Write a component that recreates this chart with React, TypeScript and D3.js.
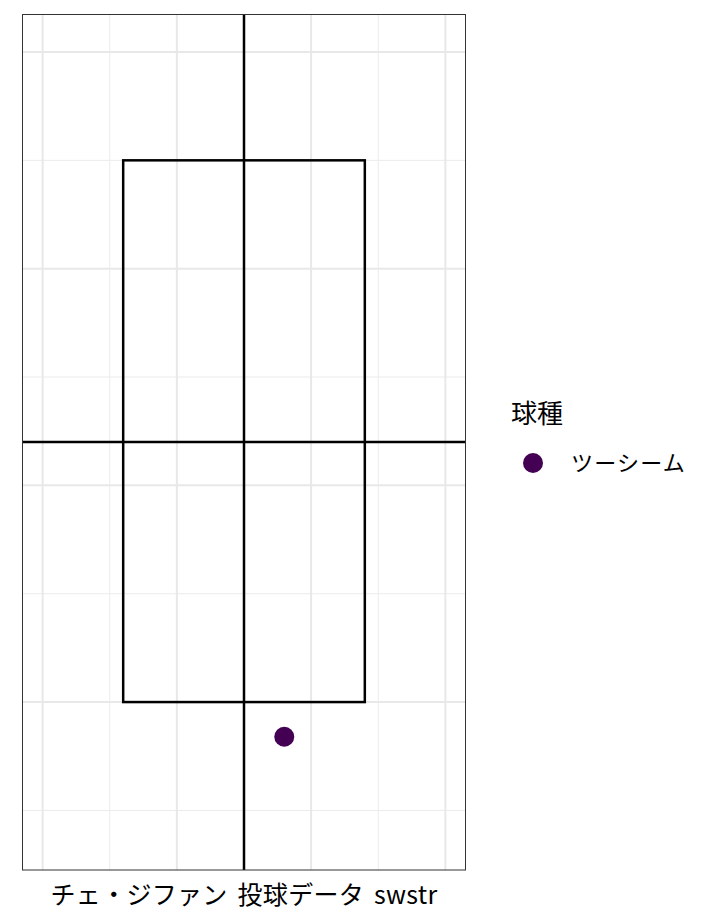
import React, { useEffect, useRef } from 'react';
import * as d3 from 'd3';

// grid breaks
const xMajor = [-1.5, -0.5, 0.5, 1.5];
const xMinor = [-1, 0, 1];
const yMajor = [1, 2, 3, 4];
const yMinor = [0.5, 1.5, 2.5, 3.5];

// strike zone and reference lines
const zoneX = [-0.9, 0.9];
const zoneY = [1, 3.5];
const centerX = 0;
const centerY = 2.2;

// pitches
const pitchTypes = ['ツーシーム'];
const pitchX = [0.3];
const pitchY = [0.84];

const xTitle = 'チェ・ジファン 投球データ swstr';
const legendTitle = '球種';

const W = 720;
const H = 921;
const FONT = '"Noto Sans CJK JP", "Noto Sans", sans-serif';

const App = () => {
  const ref = useRef<SVGSVGElement>(null);

  useEffect(() => {
    const svg = d3.select(ref.current);
    svg.selectAll('*').remove();

    const panel = { left: 22.5, right: 465.5, top: 14.5, bottom: 870 };
    const x = d3.scaleLinear().domain([-1.65, 1.65]).range([panel.left, panel.right]);
    const y = d3.scaleLinear().domain([0.225, 4.173]).range([panel.bottom, panel.top]);
    const color = d3.scaleOrdinal<string>().domain(pitchTypes).range(['#440154']);

    const g = svg.append('g');

    g.append('rect')
      .attr('x', panel.left).attr('y', panel.top)
      .attr('width', panel.right - panel.left).attr('height', panel.bottom - panel.top)
      .attr('fill', 'white');

    // minor grid
    g.selectAll('.vminor').data(xMinor).join('line')
      .attr('x1', d => x(d)).attr('x2', d => x(d))
      .attr('y1', panel.top).attr('y2', panel.bottom)
      .attr('stroke', '#ebebeb').attr('stroke-width', 1);
    g.selectAll('.hminor').data(yMinor).join('line')
      .attr('y1', d => y(d)).attr('y2', d => y(d))
      .attr('x1', panel.left).attr('x2', panel.right)
      .attr('stroke', '#ebebeb').attr('stroke-width', 1);
    // major grid
    g.selectAll('.vmajor').data(xMajor).join('line')
      .attr('x1', d => x(d)).attr('x2', d => x(d))
      .attr('y1', panel.top).attr('y2', panel.bottom)
      .attr('stroke', '#e8e8e8').attr('stroke-width', 2);
    g.selectAll('.hmajor').data(yMajor).join('line')
      .attr('y1', d => y(d)).attr('y2', d => y(d))
      .attr('x1', panel.left).attr('x2', panel.right)
      .attr('stroke', '#e8e8e8').attr('stroke-width', 2);

    // strike zone
    g.append('rect')
      .attr('x', x(zoneX[0])).attr('y', y(zoneY[1]))
      .attr('width', x(zoneX[1]) - x(zoneX[0]))
      .attr('height', y(zoneY[0]) - y(zoneY[1]))
      .attr('fill', 'none').attr('stroke', 'black').attr('stroke-width', 2.5);

    g.append('line')
      .attr('x1', x(centerX)).attr('x2', x(centerX))
      .attr('y1', panel.top).attr('y2', panel.bottom)
      .attr('stroke', 'black').attr('stroke-width', 2.5);
    g.append('line')
      .attr('y1', y(centerY)).attr('y2', y(centerY))
      .attr('x1', panel.left).attr('x2', panel.right)
      .attr('stroke', 'black').attr('stroke-width', 2.5);

    g.selectAll('.pitch').data(pitchX).join('circle')
      .attr('cx', d => x(d))
      .attr('cy', (d, i) => y(pitchY[i]))
      .attr('r', 10)
      .attr('fill', (d, i) => color(pitchTypes[i]));

    // panel border
    g.append('rect')
      .attr('x', panel.left).attr('y', panel.top)
      .attr('width', panel.right - panel.left).attr('height', panel.bottom - panel.top)
      .attr('fill', 'none').attr('stroke', '#333').attr('stroke-width', 1);

    // axis title
    svg.append('text')
      .attr('x', (panel.left + panel.right) / 2).attr('y', 904)
      .attr('text-anchor', 'middle')
      .attr('font-family', FONT).attr('font-size', 25)
      .attr('letter-spacing', 0.3).attr('word-spacing', 4)
      .attr('fill', 'black')
      .text(xTitle);

    // legend
    const lg = svg.append('g');
    lg.append('text')
      .attr('x', 511).attr('y', 423)
      .attr('font-family', FONT).attr('font-size', 26)
      .attr('fill', 'black')
      .text(legendTitle);
    const items = lg.selectAll('.item').data(pitchTypes).join('g')
      .attr('transform', (d, i) => `translate(0,${463 + i * 34})`);
    items.append('circle')
      .attr('cx', 533).attr('cy', 0).attr('r', 10)
      .attr('fill', d => color(d));
    items.append('text')
      .attr('x', 571).attr('y', 0).attr('dy', '0.35em')
      .attr('font-family', FONT).attr('font-size', 22)
      .attr('letter-spacing', 1.2)
      .attr('fill', 'black')
      .text(d => d);
  }, []);

  return (
    <svg ref={ref} width={W} height={H}
      style={{ position: 'absolute', left: 0, top: 0, background: 'white' }} />
  );
};

export default App;
